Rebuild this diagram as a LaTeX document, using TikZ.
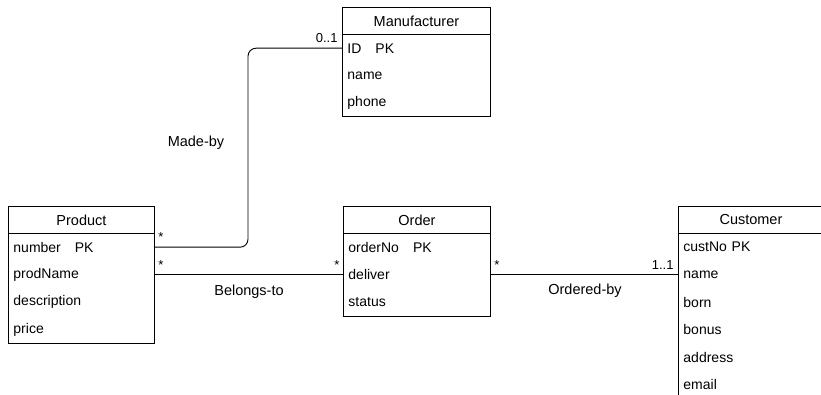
\documentclass[tikz,border=0pt]{standalone}
\usepackage{fontspec}
\setmainfont{Liberation Sans}
\begin{document}
\begin{tikzpicture}[x=1pt,y=-1pt,
  line width=0.9pt,
  hdr/.style={anchor=north west, minimum height=27pt, inner sep=0pt, font=\fontsize{14.5}{16}\selectfont},
  attr/.style={anchor=north west, minimum height=27.5pt, inner ysep=0pt, inner xsep=5pt, align=left, font=\fontsize{14}{16}\selectfont},
  ent/.style={draw, anchor=north west, inner sep=0pt},
  mult/.style={font=\fontsize{13}{14}\selectfont, inner sep=1pt},
  rel/.style={font=\fontsize{14.5}{16}\selectfont, inner sep=1pt},
  conn/.style={draw, line width=0.9pt}]
\useasboundingbox (0,0) rectangle (821,395);
% Manufacturer
\node[ent, minimum width=148pt, minimum height=109.5pt] (mfr) at (342,7) {};
\node[hdr, minimum width=148pt] (mfrh) at (342,7) {Manufacturer};
\draw (mfrh.south west) -- (mfrh.south east);
\node[attr, text width=138pt] (mfr1) at (342,34) {ID\ \ \ PK};
\node[attr, text width=138pt] (mfr2) at (342,61.5) {name};
\node[attr, text width=138pt] (mfr3) at (342,89) {phone};
% Product
\node[ent, minimum width=146pt, minimum height=137pt] (prod) at (8,206) {};
\node[hdr, minimum width=146pt] (prodh) at (8,206) {Product};
\draw (prodh.south west) -- (prodh.south east);
\node[attr, text width=136pt] (prod1) at (8,233) {number\ \ \ PK};
\node[attr, text width=136pt] (prod2) at (8,260.5) {prodName};
\node[attr, text width=136pt] (prod3) at (8,288) {description};
\node[attr, text width=136pt] (prod4) at (8,315.5) {price};
% Order
\node[ent, minimum width=147pt, minimum height=109.5pt] (ord) at (343,206) {};
\node[hdr, minimum width=147pt] (ordh) at (343,206) {Order};
\draw (ordh.south west) -- (ordh.south east);
\node[attr, text width=137pt] (ord1) at (343,233) {orderNo\ \ \ PK};
\node[attr, text width=137pt] (ord2) at (343,260.5) {deliver};
\node[attr, text width=137pt] (ord3) at (343,288) {status};
% Customer
\node[ent, minimum width=145pt, minimum height=192pt] (cust) at (678,206) {};
\node[hdr, minimum width=145pt] (custh) at (678,206) {Customer};
\draw (custh.south west) -- (custh.south east);
\node[attr, text width=135pt] (cust1) at (678,233) {custNo PK};
\node[attr, text width=135pt] (cust2) at (678,260.5) {name};
\node[attr, text width=135pt] (cust3) at (678,288) {born};
\node[attr, text width=135pt] (cust4) at (678,315.5) {bonus};
\node[attr, text width=135pt] (cust5) at (678,343) {address};
\node[attr, text width=135pt] (cust6) at (678,370.5) {email};
% connectors
\coordinate (bend) at (248,0);
\draw[conn, rounded corners=8pt] (prod1.east) -- (bend |- prod1.east) -- (bend |- mfr1.west) -- (mfr1.west);
\draw[conn] (prod2.east) -- (ord2.west);
\draw[conn] (ord2.east) -- (cust2.west);
% multiplicities
\node[mult, anchor=south west] (m1) at ([xshift=2pt,yshift=4pt]prod1.east) {*};
\node[mult, anchor=south west] (m2) at ([xshift=2pt,yshift=4pt]prod2.east) {*};
\node[mult, anchor=south east] (m3) at ([xshift=-2pt,yshift=4pt]ord2.west) {*};
\node[mult, anchor=south west] (m4) at ([xshift=2pt,yshift=4pt]ord2.east) {*};
\node[mult, anchor=south east] (m5) at ([xshift=-3pt,yshift=4pt]mfr1.west) {0..1};
\node[mult, anchor=south east] (m6) at ([xshift=-3pt,yshift=4pt]cust2.west) {1..1};
% relation labels
\node[rel] (r1) at (196,143) {Made-by};
\node[rel] (r2) at (249,292) {Belongs-to};
\node[rel] (r3) at (585,291) {Ordered-by};
\end{tikzpicture}
\end{document}
